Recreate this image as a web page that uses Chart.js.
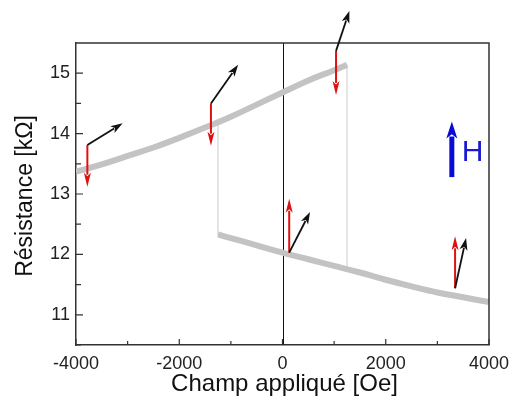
<!DOCTYPE html>
<html><head><meta charset="utf-8">
<script src="https://cdn.jsdelivr.net/npm/chart.js@4/dist/chart.umd.min.js"></script>
<style>html,body{margin:0;padding:0;background:#fff}#c{display:block}</style>
</head><body>
<canvas id="c" width="509" height="410"></canvas>
<script>
// Data (field in Oe, resistance in kOhm)
const upperField = [-4000,-3500,-3000,-2500,-2000,-1500,-1000,-500,0,500,1000,1250];
const upperRes   = [13.37,13.49,13.63,13.77,13.93,14.10,14.28,14.48,14.68,14.88,15.05,15.14];
const lowerField = [-1250,-1000,-500,0,500,1000,1500,2000,2500,3000,3500,4000];
const lowerRes   = [12.33,12.27,12.15,12.03,11.92,11.81,11.70,11.58,11.47,11.37,11.29,11.21];
const switchLeftField = [-1250,-1250];
const switchLeftRes = [14.19,12.33];
const switchRightField = [1250,1250];
const switchRightRes = [15.14,11.75];
const xTickValues = [-4000,-2000,0,2000,4000];
const xMinorTicks = [-3000,-1000,1000,3000];
const yTickValues = [11,12,13,14,15];
const yMinorTicks = [10.5,11.5,12.5,13.5,14.5];
// Magnetisation arrows: start field, start R, red end R, black end field, black end R
const arrowField   = [-3780,-1386,1037,130,3343];
const arrowStartR  = [13.81,14.50,15.37,12.03,11.44];
const redEndR      = [13.12,13.80,14.64,12.92,12.30];
const blackEndField= [-3097,-860,1295,533,3556];
const blackEndR    = [14.17,15.14,16.03,12.70,12.27];
const hArrowField = 3280, hArrowFrom = 13.28, hArrowTo = 14.20;
const hLabelField = 3470, hLabelR = 13.55;

const FONT = "'Liberation Sans', Arial, sans-serif";
const toPts = (xs, ys) => xs.map((x,i)=>({x:x, y:ys[i]}));

function arrow(ctx, x1, y1, x2, y2, color, lw, hl, hw) {
  const a = Math.atan2(y2-y1, x2-x1);
  const bx = x2 - hl*Math.cos(a), by = y2 - hl*Math.sin(a);
  ctx.save();
  ctx.strokeStyle = color; ctx.fillStyle = color; ctx.lineWidth = lw; ctx.lineCap='butt';
  ctx.beginPath(); ctx.moveTo(x1,y1); ctx.lineTo(bx + 2*Math.cos(a), by + 2*Math.sin(a)); ctx.stroke();
  ctx.beginPath();
  ctx.moveTo(x2,y2);
  ctx.lineTo(bx + hw/2*Math.sin(a), by - hw/2*Math.cos(a));
  ctx.lineTo(bx + hl*0.25*Math.cos(a), by + hl*0.25*Math.sin(a));
  ctx.lineTo(bx - hw/2*Math.sin(a), by + hw/2*Math.cos(a));
  ctx.closePath(); ctx.fill();
  ctx.restore();
}

const decor = {
  id:'decor',
  beforeDatasetsDraw(chart){
    const {ctx, chartArea:a, scales:{x,y}} = chart;
    ctx.save();
    ctx.strokeStyle='#111'; ctx.lineWidth=1;
    const zx = Math.round(x.getPixelForValue(0))+0.5;
    ctx.beginPath(); ctx.moveTo(zx,a.top); ctx.lineTo(zx,a.bottom); ctx.stroke();
    ctx.restore();
  },
  afterDraw(chart){
    const {ctx, chartArea:a, scales:{x,y}} = chart;
    ctx.save();
    ctx.strokeStyle='#333'; ctx.lineWidth=1.5;
    ctx.beginPath(); ctx.moveTo(a.left,a.top); ctx.lineTo(a.right,a.top); ctx.lineTo(a.right,a.bottom); ctx.stroke();
    ctx.lineWidth=1.2;
    ctx.beginPath();
    xTickValues.forEach(v=>{const p=x.getPixelForValue(v); ctx.moveTo(p,a.bottom); ctx.lineTo(p,a.bottom-6);});
    xMinorTicks.forEach(v=>{const p=x.getPixelForValue(v); ctx.moveTo(p,a.bottom); ctx.lineTo(p,a.bottom-4);});
    yTickValues.forEach(v=>{const p=y.getPixelForValue(v); ctx.moveTo(a.left,p); ctx.lineTo(a.left+7,p);});
    yMinorTicks.forEach(v=>{const p=y.getPixelForValue(v); ctx.moveTo(a.left,p); ctx.lineTo(a.left+5,p);});
    ctx.stroke();
    arrowField.forEach((f,i)=>{
      const px = x.getPixelForValue(f), py = y.getPixelForValue(arrowStartR[i]);
      arrow(ctx, px, py, px, y.getPixelForValue(redEndR[i]), '#e01010', 2, 14, 7);
      arrow(ctx, px, py, x.getPixelForValue(blackEndField[i]), y.getPixelForValue(blackEndR[i]), '#111', 1.8, 12, 8);
    });
    const hx = x.getPixelForValue(hArrowField);
    arrow(ctx, hx, y.getPixelForValue(hArrowFrom), hx, y.getPixelForValue(hArrowTo), '#0a0ad8', 5, 17, 11);
    ctx.fillStyle='#1a1ad0'; ctx.font='30px '+FONT; ctx.textAlign='left'; ctx.textBaseline='alphabetic';
    ctx.fillText('H', x.getPixelForValue(hLabelField), y.getPixelForValue(hLabelR));
    ctx.fillStyle='#111'; ctx.font='24px '+FONT; ctx.textAlign='center'; ctx.textBaseline='middle';
    ctx.fillText('Champ appliqué [Oe]', (a.left+a.right)/2+2, 384);
    ctx.font='23px '+FONT;
    ctx.translate(26,(a.top+a.bottom)/2+2); ctx.rotate(-Math.PI/2);
    ctx.fillText('Résistance [kΩ]', 0, 0);
    ctx.restore();
  }
};

new Chart(document.getElementById('c'), {
  type:'scatter',
  data:{datasets:[
    {data:toPts(switchLeftField,switchLeftRes), showLine:true, borderColor:'#d4d4d4', borderWidth:1.2, pointRadius:0, order:3},
    {data:toPts(switchRightField,switchRightRes), showLine:true, borderColor:'#d4d4d4', borderWidth:1.2, pointRadius:0, order:3},
    {data:toPts(upperField,upperRes), showLine:true, borderColor:'#c3c3c3', borderWidth:6, pointRadius:0, tension:0.4, order:1},
    {data:toPts(lowerField,lowerRes), showLine:true, borderColor:'#c3c3c3', borderWidth:6, pointRadius:0, tension:0.4, order:1}
  ]},
  options:{
    responsive:false, animation:false, events:[],
    layout:{padding:{top:43,right:0,left:0,bottom:0}},
    plugins:{legend:{display:false}, tooltip:{enabled:false}},
    scales:{
      x:{type:'linear', min:-4000, max:4000,
        afterBuildTicks:s=>{s.ticks=xTickValues.map(v=>({value:v}));},
        afterFit:s=>{s.height=65; s.paddingLeft=0; s.paddingRight=20;},
        grid:{display:false, drawTicks:false},
        border:{display:true, color:'#333', width:1.5},
        ticks:{font:{size:18,family:FONT}, color:'#222', padding:8, maxRotation:0, autoSkip:false,
          callback:v=>String(v)}},
      y:{type:'linear', min:10.5, max:15.5,
        afterBuildTicks:s=>{s.ticks=yTickValues.map(v=>({value:v}));},
        afterFit:s=>{s.width=76; s.paddingTop=0; s.paddingBottom=0;},
        grid:{display:false, drawTicks:false},
        border:{display:true, color:'#333', width:1.5},
        ticks:{font:{size:18,family:FONT}, color:'#222', padding:6, callback:v=>String(v)}}
    }
  },
  plugins:[decor]
});
</script>
</body></html>
